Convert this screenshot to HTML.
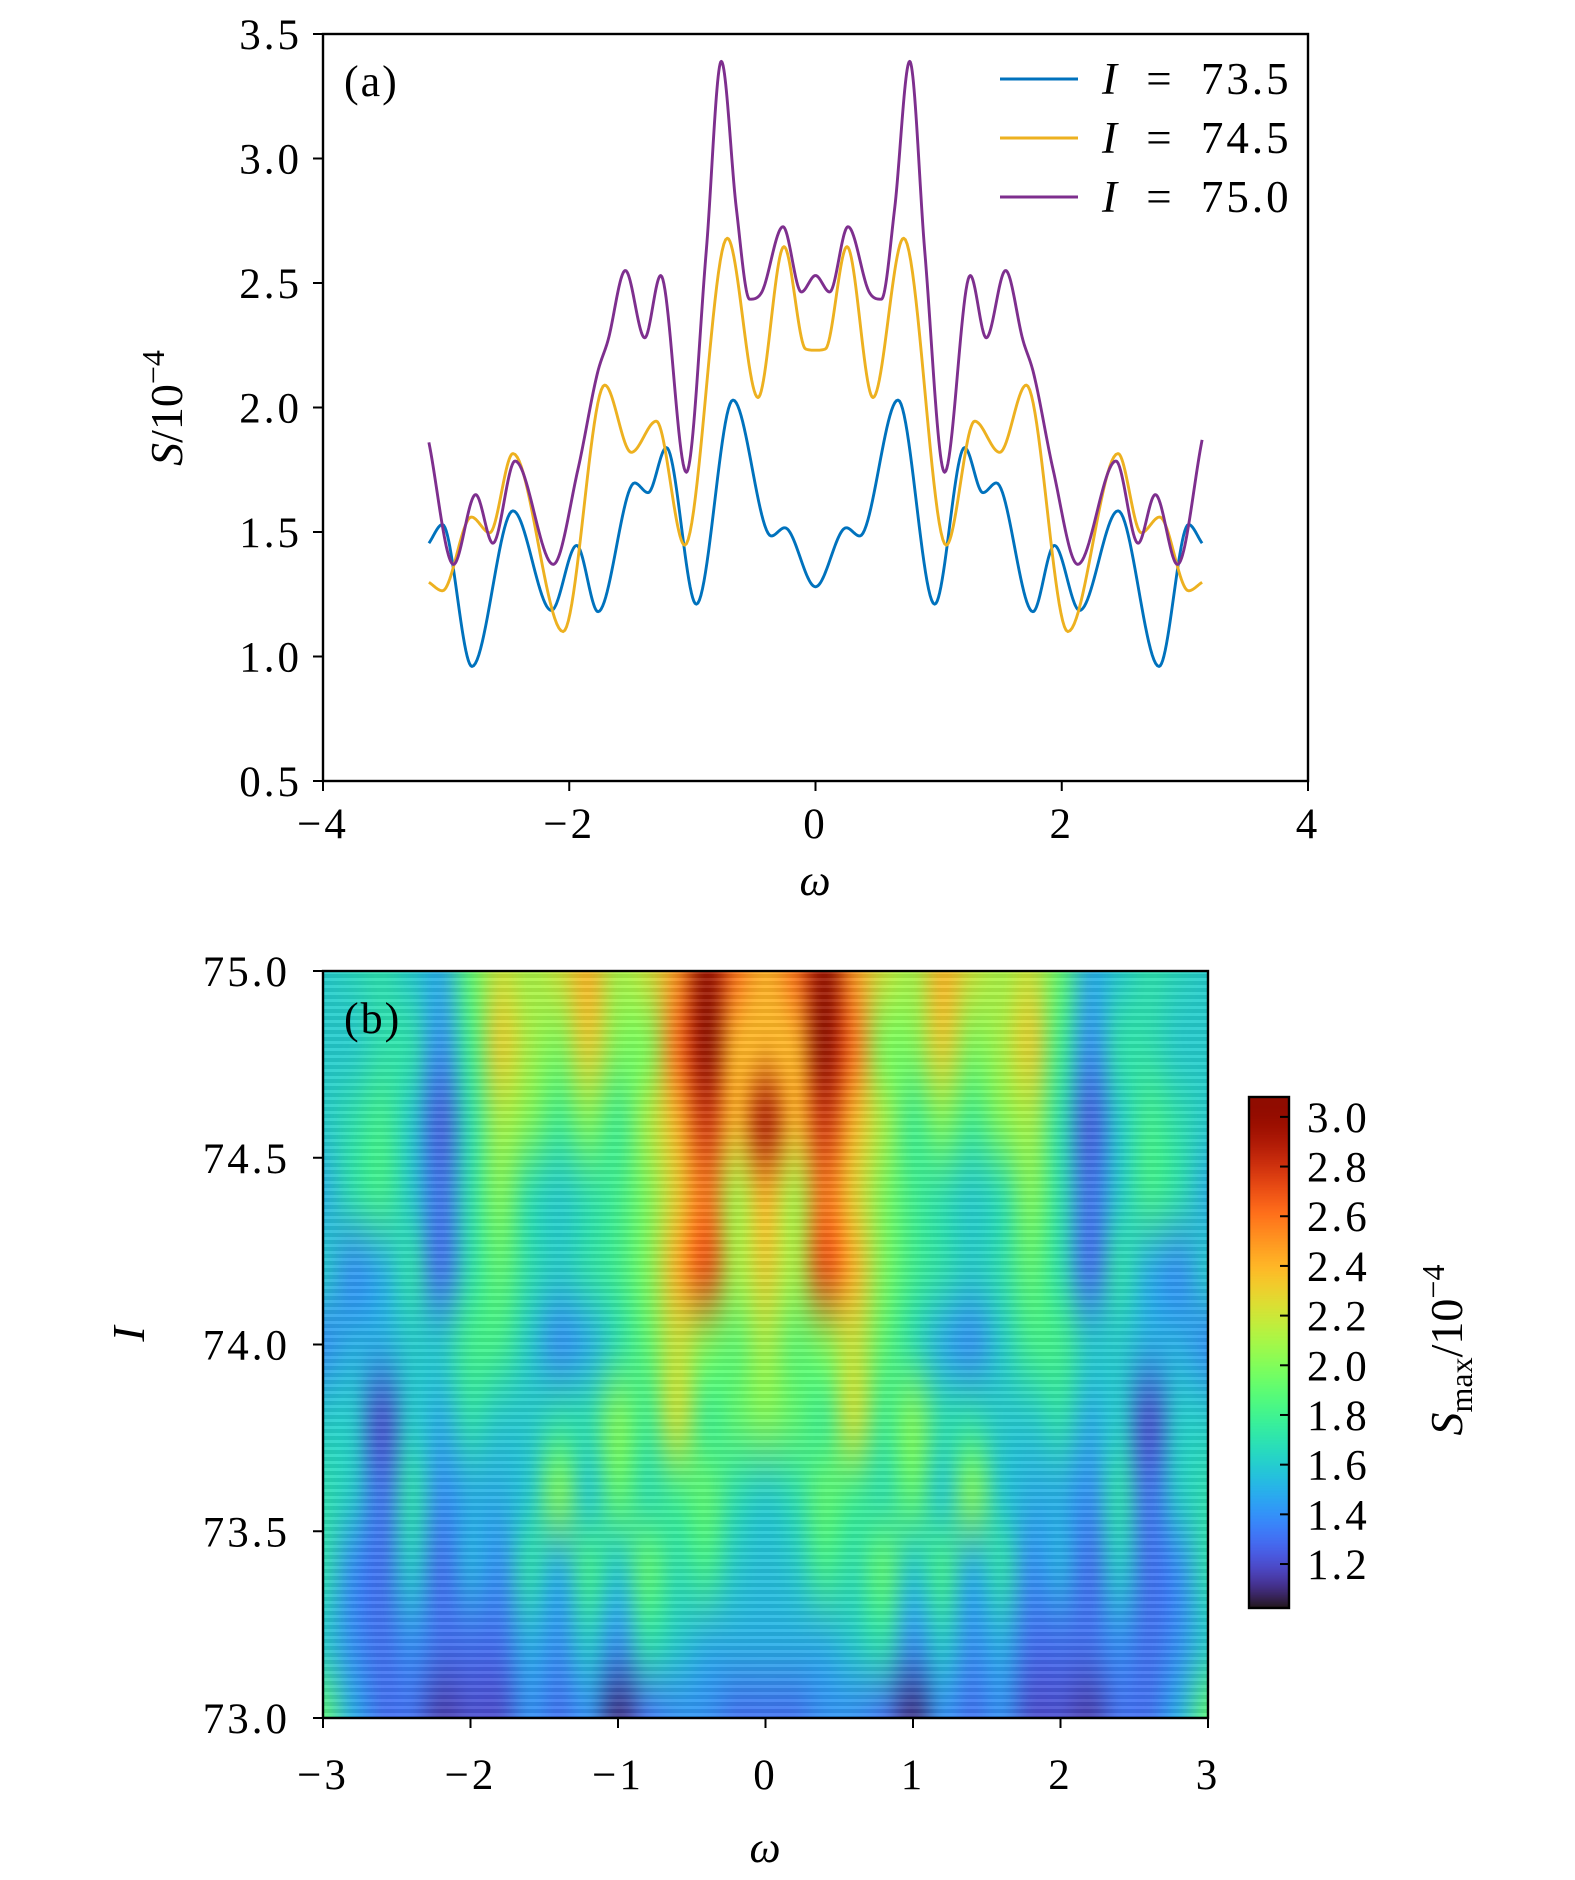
<!DOCTYPE html>
<html><head><meta charset="utf-8">
<style>
html,body{margin:0;padding:0;background:#fff;}
#wrap{position:relative;width:1575px;height:1880px;overflow:hidden;background:#fff;}
#heat{position:absolute;left:323px;top:971px;}
#cbar{position:absolute;left:1249px;top:1097px;}
#stripes{position:absolute;left:323px;top:971px;width:885px;height:747px;
background:repeating-linear-gradient(180deg,rgba(255,255,255,0.09) 0px,rgba(255,255,255,0.09) 3px,rgba(0,0,0,0.08) 3px,rgba(0,0,0,0.08) 7px);}
svg{position:absolute;left:0;top:0;}
text{font-family:"Liberation Serif",serif;fill:#000;}
</style></head>
<body>
<div id="wrap">
<canvas id="heat" width="885" height="747"></canvas>
<div id="stripes"></div>
<canvas id="cbar" width="40" height="511"></canvas>
<svg id="svg" width="1575" height="1880" xmlns="http://www.w3.org/2000/svg"></svg>
</div>
<script>
// ---------- Panel (a) data ----------
const blueW = [-3.14,-3.03,-2.79,-2.457,-2.145,-1.94,-1.766,-1.469,-1.36,-1.211,-0.968,-0.67,-0.359,-0.25,0,0.25,0.359,0.67,0.968,1.211,1.36,1.469,1.766,1.94,2.145,2.457,2.79,3.03,3.14];
const blueS = [1.455,1.53,0.96,1.585,1.185,1.446,1.18,1.697,1.658,1.839,1.21,2.03,1.484,1.517,1.28,1.517,1.484,2.03,1.21,1.839,1.658,1.697,1.18,1.446,1.185,1.585,0.96,1.53,1.455];
const yellowW = [-3.14,-3.03,-2.795,-2.646,-2.457,-2.05,-1.712,-1.496,-1.293,-1.062,-0.716,-0.467,-0.256,-0.08,0,0.08,0.256,0.467,0.716,1.062,1.293,1.496,1.712,2.05,2.457,2.646,2.795,3.03,3.14];
const yellowS = [1.298,1.264,1.56,1.497,1.815,1.10,2.09,1.82,1.945,1.447,2.68,2.04,2.646,2.235,2.23,2.235,2.646,2.04,2.68,1.447,1.945,1.82,2.09,1.10,1.815,1.497,1.56,1.264,1.298];
const purpleW = [-3.14,-2.94,-2.76,-2.62,-2.44,-2.13,-1.93,-1.77,-1.685,-1.544,-1.387,-1.257,-1.049,-0.887,-0.765,-0.643,-0.535,-0.44,-0.264,-0.115,0,0.115,0.264,0.44,0.535,0.643,0.765,0.887,1.049,1.257,1.387,1.544,1.685,1.77,1.93,2.13,2.44,2.62,2.76,2.94,3.14];
const purpleS = [1.86,1.37,1.65,1.455,1.785,1.37,1.75,2.14,2.27,2.55,2.28,2.53,1.74,2.63,3.39,2.80,2.435,2.46,2.726,2.464,2.53,2.464,2.726,2.46,2.435,2.80,3.39,2.63,1.74,2.53,2.28,2.55,2.27,2.14,1.75,1.37,1.785,1.455,1.65,1.37,1.87];
const seriesLabels = ["73.5","74.5","75.0"];
const aXTicks = [-4,-2,0,2,4];
const aYTicks = [0.5,1.0,1.5,2.0,2.5,3.0,3.5];

// ---------- Panel (b) data ----------
const heatOmega = [-3,-2.8,-2.6,-2.4,-2.2,-2,-1.8,-1.6,-1.4,-1.2,-1,-0.8,-0.6,-0.4,-0.2,0,0.2,0.4,0.6,0.8,1,1.2,1.4,1.6,1.8,2,2.2,2.4,2.6,2.8,3];
const heatI = [75.0,74.8,74.6,74.4,74.2,74.0,73.8,73.6,73.4,73.2,73.0];
const heatRow750 = [1.6,1.65,1.7,1.6,1.5,1.9,2.2,2.1,2.2,2.4,2.1,2.2,2.5,3.0,2.6,2.4,2.6,3.0,2.5,2.2,2.1,2.4,2.2,2.1,2.2,1.9,1.5,1.6,1.7,1.65,1.6];
const heatRow748 = [1.6,1.6,1.7,1.7,1.4,1.8,2.3,2.1,2.0,2.3,2.0,2.0,2.6,3.05,2.4,2.4,2.4,3.05,2.6,2.0,2.0,2.3,2.0,2.1,2.3,1.8,1.4,1.7,1.7,1.6,1.6];
const heatRow746 = [1.6,1.7,1.8,1.6,1.25,1.7,2.1,2.0,1.8,2.0,1.8,2.1,2.4,2.8,2.4,2.9,2.4,2.8,2.4,2.1,1.8,2.0,1.8,2.0,2.1,1.7,1.25,1.6,1.8,1.7,1.6];
const heatRow744 = [1.5,1.7,1.8,1.6,1.3,1.7,2.0,1.7,1.6,1.7,1.8,2.0,2.3,2.6,2.1,2.4,2.1,2.6,2.3,2.0,1.8,1.7,1.6,1.7,2.0,1.7,1.3,1.6,1.8,1.7,1.5];
const heatRow742 = [1.6,1.4,1.5,1.7,1.3,1.7,1.9,1.7,1.6,1.7,1.8,2.0,2.4,2.7,2.1,2.3,2.1,2.7,2.4,2.0,1.8,1.7,1.6,1.7,1.9,1.7,1.3,1.7,1.5,1.4,1.6];
const heatRow740 = [1.4,1.5,1.5,1.6,1.6,1.8,1.8,1.6,1.4,1.5,1.7,1.9,2.2,2.0,1.9,2.1,1.9,2.0,2.2,1.9,1.7,1.5,1.4,1.6,1.8,1.8,1.6,1.6,1.5,1.5,1.4];
const heatRow738 = [1.6,1.6,1.2,1.6,1.5,1.7,1.6,1.6,1.7,1.7,2.0,1.8,2.2,1.8,1.9,2.0,1.9,1.8,2.2,1.8,2.0,1.7,1.7,1.6,1.6,1.7,1.5,1.6,1.2,1.6,1.6];
const heatRow736 = [1.7,1.6,1.3,1.7,1.4,1.5,1.5,1.6,2.0,1.6,1.9,1.7,1.8,1.9,1.7,1.6,1.7,1.9,1.8,1.7,1.9,1.6,2.0,1.6,1.5,1.5,1.4,1.7,1.3,1.6,1.7];
const heatRow734 = [1.7,1.4,1.3,1.6,1.3,1.5,1.4,1.7,1.5,1.8,1.6,1.9,1.7,1.8,1.6,1.55,1.6,1.8,1.7,1.9,1.6,1.8,1.5,1.7,1.4,1.5,1.3,1.6,1.3,1.4,1.7];
const heatRow732 = [1.6,1.4,1.3,1.4,1.3,1.3,1.3,1.5,1.4,1.6,1.4,1.7,1.6,1.5,1.5,1.5,1.5,1.5,1.6,1.7,1.4,1.6,1.4,1.5,1.3,1.3,1.3,1.4,1.3,1.4,1.6];
const heatRow730 = [1.9,1.5,1.3,1.3,1.15,1.2,1.2,1.4,1.3,1.4,1.1,1.3,1.4,1.4,1.3,1.3,1.3,1.4,1.4,1.3,1.1,1.4,1.3,1.4,1.2,1.2,1.15,1.3,1.3,1.5,1.9];
const heatRows = [heatRow750,heatRow748,heatRow746,heatRow744,heatRow742,heatRow740,heatRow738,heatRow736,heatRow734,heatRow732,heatRow730];
const bXTicks = [-3,-2,-1,0,1,2,3];
const bYTicks = [73.0,73.5,74.0,74.5,75.0];
const cbTicks = [1.2,1.4,1.6,1.8,2.0,2.2,2.4,2.6,2.8,3.0];
const cbMin = 1.023, cbMax = 3.08;

const NS = "http://www.w3.org/2000/svg";
const svg = document.getElementById('svg');
function el(tag, attrs, parent){ const e=document.createElementNS(NS,tag); for(const k in attrs) e.setAttribute(k,attrs[k]); (parent||svg).appendChild(e); return e; }
function fmt(v,d){ const s=v.toFixed(d); return v<0 ? '\u2212'+s.slice(1) : s; }
const TICKFONT = {'font-size':43,'letter-spacing':3};

// ---- axes (a)
const A = {l:323,r:1308,t:34,b:781,xmin:-4,xmax:4,ymin:0.5,ymax:3.5};
const ax = w => A.l + (w-A.xmin)/(A.xmax-A.xmin)*(A.r-A.l);
const ay = s => A.b - (s-A.ymin)/(A.ymax-A.ymin)*(A.b-A.t);

function monotonePath(xs, ys, fx, fy){
  const n=xs.length, d=[], m=[];
  for(let i=0;i<n-1;i++) d.push((ys[i+1]-ys[i])/(xs[i+1]-xs[i]));
  m[0]=d[0]; m[n-1]=d[n-2];
  for(let i=1;i<n-1;i++){ m[i] = (d[i-1]*d[i]<=0)?0:(d[i-1]+d[i])/2; }
  for(let i=0;i<n-1;i++){
    if(d[i]===0){m[i]=0;m[i+1]=0;continue;}
    const a=m[i]/d[i], b=m[i+1]/d[i], h=a*a+b*b;
    if(h>9){ const t=3/Math.sqrt(h); m[i]=t*a*d[i]; m[i+1]=t*b*d[i]; }
  }
  let p='M'+fx(xs[0]).toFixed(2)+','+fy(ys[0]).toFixed(2);
  for(let i=0;i<n-1;i++){
    const h=xs[i+1]-xs[i];
    for(let k=1;k<=24;k++){
      const t=k/24, t2=t*t, t3=t2*t;
      const y=(2*t3-3*t2+1)*ys[i]+(t3-2*t2+t)*h*m[i]+(-2*t3+3*t2)*ys[i+1]+(t3-t2)*h*m[i+1];
      p+='L'+fx(xs[i]+t*h).toFixed(2)+','+fy(y).toFixed(2);
    }
  }
  return p;
}

const gA = el('g',{});


const colors=['#0072bd','#edb120','#7e2f8e'];
const names=['line-i-73-5','line-i-74-5','line-i-75-0'];
[[blueW,blueS],[yellowW,yellowS],[purpleW,purpleS]].forEach((s,i)=>{
  const p=el('path',{d:monotonePath(s[0],s[1],ax,ay),fill:'none',stroke:colors[i],'stroke-width':2.9,'stroke-linejoin':'round'},gA);
  
  
});
const frameA = el('rect',{x:A.l,y:A.t,width:A.r-A.l,height:A.b-A.t,fill:'none',stroke:'#000','stroke-width':2.4},gA);


aXTicks.forEach(v=>{
  el('line',{x1:ax(v),x2:ax(v),y1:A.b,y2:A.b+10,stroke:'#000','stroke-width':2},gA);
  const t=el('text',Object.assign({x:ax(v),y:838,'text-anchor':'middle'},TICKFONT),gA);
  t.textContent=fmt(v,0);
  
  
});
aYTicks.forEach(v=>{
  el('line',{x1:A.l-10,x2:A.l,y1:ay(v),y2:ay(v),stroke:'#000','stroke-width':2},gA);
  const t=el('text',Object.assign({x:302,y:ay(v)+15,'text-anchor':'end'},TICKFONT),gA);
  t.textContent=fmt(v,1);
  
  
});
// legend
seriesLabels.forEach((lab,i)=>{
  const y=79+i*59;
  el('line',{x1:1000,x2:1078,y1:y,y2:y,stroke:colors[i],'stroke-width':2.9},gA);
  const t=el('text',{x:1102,y:y+15,'font-size':45,'letter-spacing':3},gA);
  t.innerHTML='<tspan font-style="italic">I</tspan>\u2009 = \u2009'+lab;
  
  
});
let tt=el('text',{x:344,y:96,'font-size':44,'letter-spacing':2},gA); tt.textContent='(a)';
 
tt=el('text',{x:815,y:895,'font-size':44,'font-style':'italic','text-anchor':'middle'},gA); tt.textContent='ω';
 
tt=el('text',{x:0,y:0,'font-size':46,'text-anchor':'middle',transform:'translate(182,408) rotate(-90)'},gA);
tt.innerHTML='<tspan font-style="italic">S</tspan>/10<tspan dy="-18" font-size="32">−4</tspan>';
 

// ---- panel (b)
const B = {l:323,r:1208,t:971,b:1718,xmin:-3,xmax:3,ymin:73,ymax:75};
const bx = w => B.l + (w-B.xmin)/(B.xmax-B.xmin)*(B.r-B.l);
const by = v => B.b - (v-B.ymin)/(B.ymax-B.ymin)*(B.b-B.t);

function turbo(x){
  x=Math.max(0,Math.min(1,x));
  const r=0.13572138+x*(4.61539260+x*(-42.66032258+x*(132.13108234+x*(-152.94239396+x*59.28637943))));
  const g=0.09140261+x*(2.19418839+x*(4.84296658+x*(-14.18503333+x*(4.27729857+x*2.82956604))));
  const b=0.10667330+x*(12.64194608+x*(-60.58204836+x*(110.36276771+x*(-89.90310912+x*27.34824973))));
  const c=v=>Math.round(255*Math.max(0,Math.min(1,v)));
  return [c(r),c(g),c(b)];
}
const norm = v => (v-cbMin)/(cbMax-cbMin);

const nC=heatOmega.length, nR=heatI.length;
const small=document.createElement('canvas'); small.width=nC; small.height=nR;
const sctx=small.getContext('2d'); const img=sctx.createImageData(nC,nR);
heatRows.forEach((row,ri)=>{ row.forEach((v,ci)=>{
  const c=turbo(norm(v)), k=(ri*nC+ci)*4;
  img.data[k]=c[0]; img.data[k+1]=c[1]; img.data[k+2]=c[2]; img.data[k+3]=255;
});});
sctx.putImageData(img,0,0);
const hc=document.getElementById('heat').getContext('2d');
hc.imageSmoothingEnabled=true; hc.imageSmoothingQuality='high';
const cw=(B.r-B.l)/(nC-1), ch=(B.b-B.t)/(nR-1);
const x0=bx(heatOmega[0])-B.l, y0=by(heatI[0])-B.t;
hc.drawImage(small,0,0,nC,nR,x0-cw/2,y0-ch/2,cw*nC,ch*nR);

const cbc=document.getElementById('cbar');
const cb=cbc.getContext('2d');
for(let y=0;y<cbc.height;y++){ const v=cbMax-(y/(cbc.height-1))*(cbMax-cbMin); const c=turbo(norm(v)); cb.fillStyle='rgb('+c+')'; cb.fillRect(0,y,40,1); }

const gB = el('g',{});


const frameB=el('rect',{x:B.l,y:B.t,width:B.r-B.l,height:B.b-B.t,fill:'none',stroke:'#000','stroke-width':2.4},gB);


bXTicks.forEach(v=>{
  el('line',{x1:bx(v),x2:bx(v),y1:B.b,y2:B.b+10,stroke:'#000','stroke-width':2},gB);
  const t=el('text',Object.assign({x:bx(v),y:1789,'text-anchor':'middle'},TICKFONT),gB);
  t.textContent=fmt(v,0);
  
  
});
bYTicks.forEach(v=>{
  el('line',{x1:B.l-10,x2:B.l,y1:by(v),y2:by(v),stroke:'#000','stroke-width':2},gB);
  const t=el('text',Object.assign({x:290,y:by(v)+15,'text-anchor':'end'},TICKFONT),gB);
  t.textContent=fmt(v,1);
  
  
});
tt=el('text',{x:344,y:1033,'font-size':44,'letter-spacing':2},gB); tt.textContent='(b)';
 
tt=el('text',{x:765,y:1862,'font-size':44,'font-style':'italic','text-anchor':'middle'},gB); tt.textContent='ω';
 
tt=el('text',{x:0,y:0,'font-size':46,'font-style':'italic','text-anchor':'middle',transform:'translate(144,1334) rotate(-90)'},gB); tt.textContent='I';
 

const CB={l:1249,r:1289,t:1097,b:1608};
const cy = v => CB.b - (v-cbMin)/(cbMax-cbMin)*(CB.b-CB.t);
const cbFrame=el('rect',{x:CB.l,y:CB.t,width:CB.r-CB.l,height:CB.b-CB.t,fill:'none',stroke:'#000','stroke-width':2.4},gB);


cbTicks.forEach(v=>{
  el('line',{x1:CB.r-9,x2:CB.r,y1:cy(v),y2:cy(v),stroke:'#000','stroke-width':2},gB);
  const t=el('text',Object.assign({x:1307,y:cy(v)+15},TICKFONT),gB);
  t.textContent=v.toFixed(1);
  
  
});
tt=el('text',{x:0,y:0,'font-size':46,'text-anchor':'middle',transform:'translate(1462,1350) rotate(-90)'},gB);
tt.innerHTML='<tspan font-style="italic">S</tspan><tspan dy="10" font-size="32">max</tspan><tspan dy="-10">/10</tspan><tspan dy="-18" font-size="32">−4</tspan>';
 
</script>
</body></html>
